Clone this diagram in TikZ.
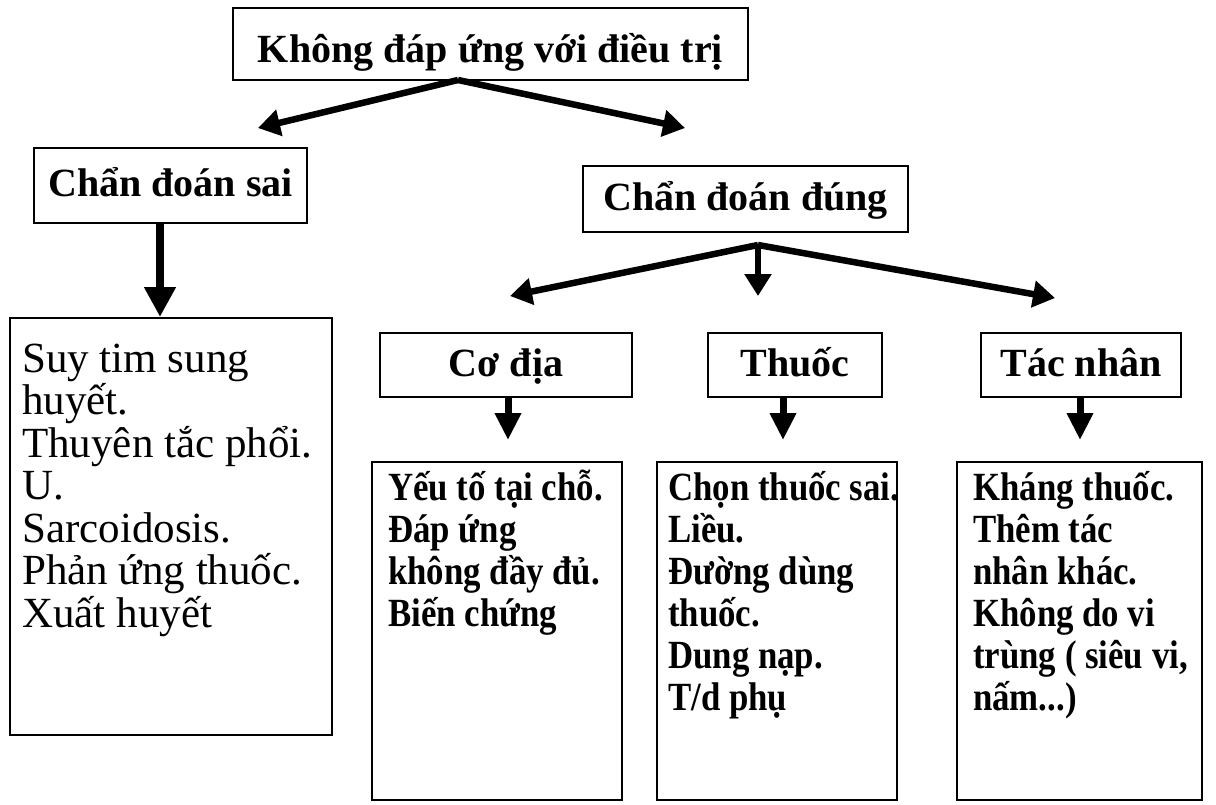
\documentclass[tikz,border=0pt]{standalone}
\usepackage{fontspec}
\setmainfont{Liberation Serif}
\newfontfamily\narrowbold[FakeStretch=0.87]{Liberation Serif Bold}
\usetikzlibrary{arrows.meta}
\newcommand\firstline[1]{\rule{0pt}{#1}}
\begin{document}
\begin{tikzpicture}[x=1pt,y=-1pt,
  box/.style={draw, line width=2pt, inner sep=0pt},
  headbox/.style={box, font=\bfseries\fontsize{40}{44}\selectfont, text height=30pt, text depth=8pt},
  listtext/.style={anchor=north west, inner sep=0pt, align=left},
  fork/.style={line width=6.5pt, -{Triangle[length=22pt,width=26pt]}},
  drop/.style={line width=7pt, -{Triangle[length=27pt,width=25pt]}}]
\useasboundingbox[fill=white] (0,0) rectangle (1216,804);

% top level
\node[headbox, minimum width=515pt, minimum height=72pt, text height=40pt, text depth=4pt] (top) at (490.5,44) {Không đáp ứng với điều trị};

% second level
\node[headbox, minimum width=273pt, minimum height=75pt] (sai) at (170.5,185.5) {Chẩn đoán sai};
\node[headbox, minimum width=325pt, minimum height=66pt] (dung) at (745.5,199) {Chẩn đoán đúng};

% wrong diagnosis list
\node[box, minimum width=322pt, minimum height=417pt] (lbox) at (171,526.5) {};
\node[listtext, font=\fontsize{43}{42.5}\selectfont] (ltext) at (22,329)
  {\firstline{43pt}Suy tim sung\\huyết.\\Thuyên tắc phổi.\\U.\\Sarcoidosis.\\Phản ứng thuốc.\\Xuất huyết};

% third level
\node[headbox, minimum width=252pt, minimum height=64pt] (codia) at (506,365) {Cơ địa};
\node[headbox, minimum width=174pt, minimum height=64pt] (thuoc) at (795,365) {Thuốc};
\node[headbox, minimum width=200pt, minimum height=64pt] (tacnhan) at (1081,365) {Tác nhân};

% detail boxes
\node[box, minimum width=250pt, minimum height=338pt] (b1) at (497,631) {};
\node[box, minimum width=240pt, minimum height=338pt] (b2) at (777,631) {};
\node[box, minimum width=245pt, minimum height=338pt] (b3) at (1079.5,631) {};
\tikzset{detail/.style={listtext, font=\narrowbold\fontsize{40}{42}\selectfont}}
\node[detail] (t1) at (388,460) {\firstline{40pt}Yếu tố tại chỗ.\\Đáp ứng\\không đầy đủ.\\Biến chứng};
\node[detail] (t2) at (668,460) {\firstline{40pt}Chọn thuốc sai.\\Liều.\\Đường dùng\\thuốc.\\Dung nạp.\\T/d phụ};
\node[detail] (t3) at (973,460) {\firstline{40pt}Kháng thuốc.\\Thêm tác\\nhân khác.\\Không do vi\\trùng ( siêu vi,\\nấm...)};

% branching arrows
\coordinate (f1) at (458,80);
\coordinate (f1l) at (258,128);
\coordinate (f1r) at (685,128);
\draw[fork] (f1) -- (f1l);
\draw[fork] (f1) -- (f1r);

\coordinate (s1) at (160,0);
\draw[drop, line width=8pt, -{Triangle[length=30pt,width=30pt]}] (sai.south -| s1) -- (lbox.north -| s1);

\coordinate (f2) at (758,245);
\coordinate (f2l) at (510,296);
\coordinate (f2m) at (758,296);
\coordinate (f2r) at (1055,298);
\draw[fork] (f2) -- (f2l);
\draw[fork] (f2) -- (f2r);
\draw[fork] (f2) -- (f2m);

% arrows into the detail boxes
\coordinate (d1) at (508,440);
\coordinate (d2) at (783,440);
\coordinate (d3) at (1080,440);
\draw[drop] (codia.south -| d1) -- (d1);
\draw[drop] (thuoc.south -| d2) -- (d2);
\draw[drop] (tacnhan.south -| d3) -- (d3);
\end{tikzpicture}
\end{document}
